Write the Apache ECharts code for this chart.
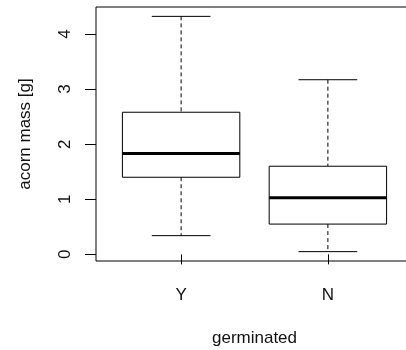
<!DOCTYPE html>
<html><head><meta charset="utf-8">
<script src="https://cdn.jsdelivr.net/npm/echarts@6/dist/echarts.min.js"></script>
<style>html,body{margin:0;padding:0;background:#fff}#c{width:406px;height:350px}</style>
</head><body><div id="c"></div>
<script>
const categories = ['Y', 'N'];
const whiskerLow = [0.34, 0.05];
const quartile1 = [1.40, 0.55];
const medians = [1.83, 1.03];
const quartile3 = [2.58, 1.60];
const whiskerHigh = [4.32, 3.17];
const yTicks = [0, 1, 2, 3, 4];
const xTicks = [1, 2];

const FONT = '"Liberation Sans", Arial, sans-serif';
const TXT = '#111';

const boxData = categories.map((c, i) => [i + 1, whiskerLow[i], quartile1[i], medians[i], quartile3[i], whiskerHigh[i]]);

function renderItem(params, api) {
  const x = api.value(0);
  const lo = api.value(1), q1 = api.value(2), med = api.value(3), q3 = api.value(4), hi = api.value(5);
  const bw = 0.4, cw = 0.2;
  const tl = api.coord([x - bw, q3]);
  const br = api.coord([x + bw, q1]);
  const m1 = api.coord([x - bw, med]), m2 = api.coord([x + bw, med]);
  const cTop = api.coord([x, hi]), cQ3 = api.coord([x, q3]);
  const cBot = api.coord([x, lo]), cQ1 = api.coord([x, q1]);
  const capHL = api.coord([x - cw, hi]), capHR = api.coord([x + cw, hi]);
  const capLL = api.coord([x - cw, lo]), capLR = api.coord([x + cw, lo]);
  const solid = { stroke: '#000', lineWidth: 1, fill: null };
  const dashed = { stroke: '#000', lineWidth: 1, lineDash: [4, 3], fill: null };
  return {
    type: 'group',
    children: [
      { type: 'line', shape: { x1: cTop[0], y1: cTop[1], x2: cQ3[0], y2: cQ3[1] }, style: dashed },
      { type: 'line', shape: { x1: cQ1[0], y1: cQ1[1], x2: cBot[0], y2: cBot[1] }, style: dashed },
      { type: 'line', shape: { x1: capHL[0], y1: capHL[1], x2: capHR[0], y2: capHR[1] }, style: solid },
      { type: 'line', shape: { x1: capLL[0], y1: capLL[1], x2: capLR[0], y2: capLR[1] }, style: solid },
      { type: 'rect', shape: { x: tl[0], y: tl[1], width: br[0] - tl[0], height: br[1] - tl[1] }, style: { stroke: '#000', lineWidth: 1, fill: '#fff' } },
      { type: 'line', shape: { x1: m1[0], y1: m1[1], x2: m2[0], y2: m2[1] }, style: { stroke: '#000', lineWidth: 3 } }
    ]
  };
}

const chart = echarts.init(document.getElementById('c'), null, { renderer: 'canvas' });
chart.setOption({
  backgroundColor: '#fff',
  animation: false,
  grid: { left: 96, right: -7, top: 7, bottom: 89, outerBoundsMode: 'none', containLabel: false,
    show: true, borderColor: '#000', borderWidth: 1, backgroundColor: 'transparent' },
  xAxis: {
    type: 'value', min: 0.42, max: 2.58,
    axisLine: { show: false },
    splitLine: { show: false },
    axisTick: { show: true, inside: false, length: 10, customValues: xTicks, lineStyle: { color: '#000', width: 1 } },
    axisLabel: { show: true, customValues: xTicks, margin: 26, fontSize: 17, fontFamily: FONT, color: TXT,
      formatter: v => categories[Math.round(v) - 1] },
    name: 'germinated', nameLocation: 'middle', nameGap: 69,
    nameTextStyle: { fontSize: 17, fontFamily: FONT, color: TXT }
  },
  yAxis: {
    type: 'value', min: -0.12, max: 4.49,
    axisLine: { show: false },
    splitLine: { show: false },
    axisTick: { show: true, inside: false, length: 11, customValues: yTicks, lineStyle: { color: '#000', width: 1 } },
    axisLabel: { show: true, customValues: yTicks, rotate: 90, margin: 22, fontSize: 17, fontFamily: FONT, color: TXT },
    name: 'acorn mass [g]', nameLocation: 'middle', nameGap: 62, nameRotate: 90,
    nameTextStyle: { fontSize: 17, fontFamily: FONT, color: TXT }
  },
  series: [{
    type: 'custom',
    renderItem: renderItem,
    encode: { x: 0, y: [1, 2, 3, 4, 5] },
    data: boxData,
    clip: false
  }]
});
</script>
</body></html>
